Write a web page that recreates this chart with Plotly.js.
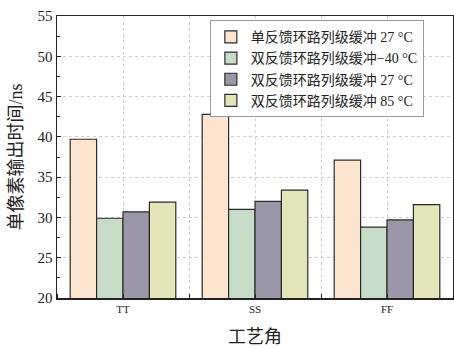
<!DOCTYPE html>
<html>
<head>
<meta charset="utf-8">
<script src="https://cdn.plot.ly/plotly-3.0.1.min.js"></script>
<style>
  html, body { margin: 0; padding: 0; background: #fff; }
  #chart { width: 454px; height: 348px; }
</style>
</head>
<body>
<div id="chart"></div>
<script>
// Process corners along the x axis
const corners = ['TT', 'SS', 'FF'];

// Series names
const seriesNames = [
  '单反馈环路列级缓冲 27 °C',
  '双反馈环路列级缓冲−40 °C',
  '双反馈环路列级缓冲 27 °C',
  '双反馈环路列级缓冲 85 °C'
];

// Single-pixel output time (ns) per corner
const singleLoop27 = [39.7, 42.8, 37.1];
const dualLoopM40 = [29.9, 31.0, 28.8];
const dualLoop27 = [30.7, 32.0, 29.7];
const dualLoop85 = [31.9, 33.4, 31.6];

const fillColors = ['#FCE4CF', '#C6DCC6', '#9C97A8', '#E3E5B9'];

const seriesValues = [singleLoop27, dualLoopM40, dualLoop27, dualLoop85];
const xPos = corners.map((_, i) => i);

const serif = '"Liberation Serif", "Times New Roman", "Noto Sans CJK SC", serif';

const traces = seriesValues.map((vals, k) => ({
  type: 'bar',
  name: seriesNames[k],
  x: xPos,
  y: vals,
  marker: { color: fillColors[k], line: { color: '#2b2b2b', width: 1.2 } },
  hoverinfo: 'y'
}));

const layout = {
  width: 454,
  height: 348,
  margin: { l: 57, r: 1, t: 16, b: 50 },
  paper_bgcolor: '#ffffff',
  plot_bgcolor: '#ffffff',
  barmode: 'group',
  bargap: 0.2,
  bargroupgap: 0,
  font: { family: serif, color: '#222' },
  showlegend: true,
  legend: {
    x: 0.386, y: 0.985, xanchor: 'left', yanchor: 'top',
    bgcolor: '#ffffff', bordercolor: '#999', borderwidth: 1,
    font: { family: serif, size: 14, color: '#222' },
    tracegroupgap: 0,
    itemwidth: 30
  },
  xaxis: {
    range: [-0.5, 2.5],
    tickvals: xPos,
    ticktext: corners,
    ticks: '',
    tickfont: { family: serif, size: 11, color: '#222' },
    showline: true, linecolor: '#222', linewidth: 1.5, mirror: true,
    showgrid: true, gridcolor: '#d0d0d0', griddash: 'dot', gridwidth: 1,
    minor: { dtick: 0.5, tick0: 0.5, ticks: 'inside', ticklen: 4, tickcolor: '#222', showgrid: true, gridcolor: '#d0d0d0', griddash: 'dot' },
    zeroline: false,
    title: { text: '工艺角', font: { family: serif, size: 18, color: '#222' }, standoff: 16 }
  },
  yaxis: {
    range: [20, 55],
    dtick: 5,
    ticks: 'inside', ticklen: 4, tickcolor: '#222',
    tickfont: { family: serif, size: 15, color: '#222' },
    showline: true, linecolor: '#222', linewidth: 1.5, mirror: true,
    showgrid: true, gridcolor: '#d0d0d0', griddash: 'dot', gridwidth: 1,
    minor: { dtick: 2.5, ticks: 'inside', ticklen: 3, tickcolor: '#222', showgrid: false },
    zeroline: false,
    title: { text: '单像素输出时间/ns', font: { family: serif, size: 18, color: '#222' }, standoff: 10 }
  }
};

Plotly.newPlot('chart', traces, layout, { displayModeBar: false, staticPlot: true });
</script>
</body>
</html>
